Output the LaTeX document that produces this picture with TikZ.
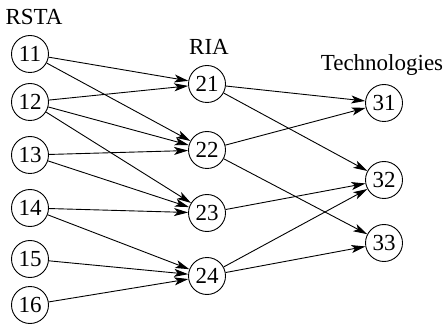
\documentclass[tikz,border=0pt]{standalone}
\usepackage{fontspec}
\setmainfont{Liberation Serif}
\usetikzlibrary{arrows.meta}
\begin{document}
\begin{tikzpicture}[x=1pt,y=-1pt,
  vert/.style={circle,draw,line width=0.9pt,minimum size=37pt,inner sep=0pt,font=\fontsize{23}{23}\selectfont},
  heading/.style={inner sep=0pt,font=\fontsize{23}{23}\selectfont},
  link/.style={line width=0.9pt,-{Stealth[length=14pt,width=8pt,inset=3.5pt]}}]
\useasboundingbox (0,0) rectangle (446,328);
% column headings
\node[heading] (hR) at (34,17) {RSTA};
\node[heading] (hI) at (209,47) {RIA};
\node[heading] (hT) at (382,65) {Technologies};
% RSTA nodes
\node[vert] (n11) at (30,54) {11};
\node[vert] (n12) at (30,102) {12};
\node[vert] (n13) at (30,155) {13};
\node[vert] (n14) at (30,208) {14};
\node[vert] (n15) at (30,259) {15};
\node[vert] (n16) at (30,305) {16};
% RIA nodes
\node[vert] (n21) at (207,84) {21};
\node[vert] (n22) at (207,150) {22};
\node[vert] (n23) at (207,213) {23};
\node[vert] (n24) at (207,276) {24};
% technology nodes
\node[vert] (n31) at (384,103) {31};
\node[vert] (n32) at (384,180) {32};
\node[vert] (n33) at (384,243) {33};
% RSTA -> RIA
\draw[link] (n11) -- (n21);
\draw[link] (n11) -- (n22);
\draw[link] (n12) -- (n21);
\draw[link] (n12) -- (n22);
\draw[link] (n12) -- (n23);
\draw[link] (n13) -- (n22);
\draw[link] (n13) -- (n23);
\draw[link] (n14) -- (n23);
\draw[link] (n14) -- (n24);
\draw[link] (n15) -- (n24);
\draw[link] (n16) -- (n24);
% RIA -> technologies
\draw[link] (n21) -- (n31);
\draw[link] (n21) -- (n32);
\draw[link] (n22) -- (n31);
\draw[link] (n22) -- (n33);
\draw[link] (n23) -- (n32);
\draw[link] (n24) -- (n32);
\draw[link] (n24) -- (n33);
\end{tikzpicture}
\end{document}
